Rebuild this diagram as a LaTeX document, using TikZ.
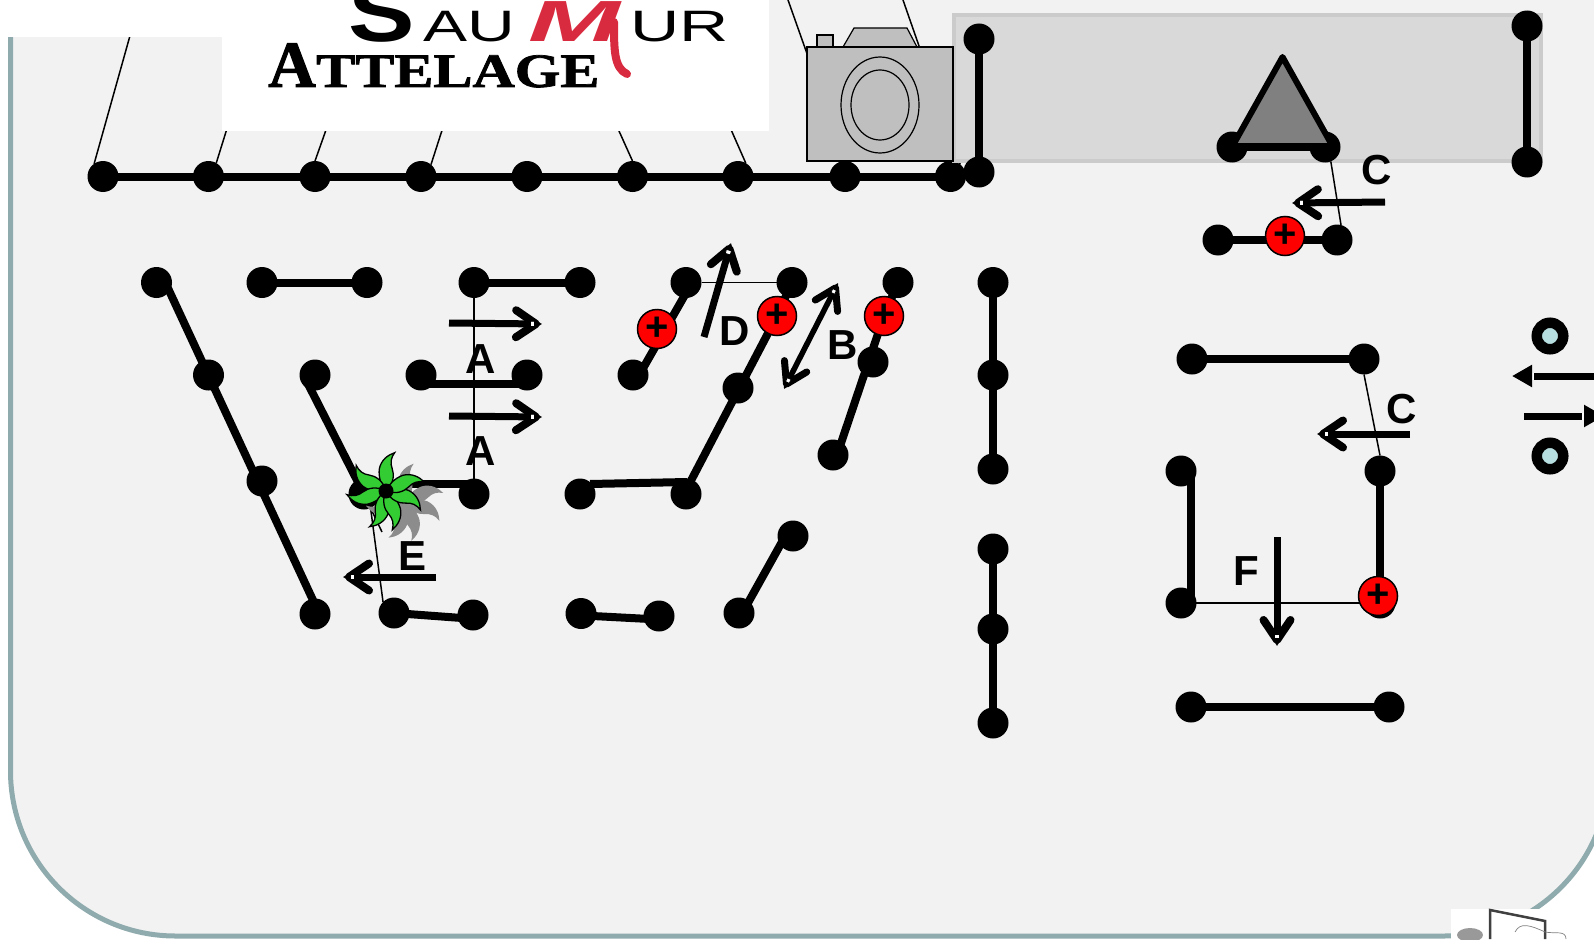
\documentclass[tikz,border=0pt]{standalone}
\usepackage{fontspec}
\setmainfont{Liberation Sans}
\newfontfamily\logoserif[BoldFeatures={FakeBold=1.5}]{Liberation Serif}
\usetikzlibrary{arrows.meta,shapes.geometric}

\definecolor{panelfill}{HTML}{F2F2F2}
\definecolor{panelline}{HTML}{8FABAD}
\definecolor{bandfill}{HTML}{D9D9D9}
\definecolor{bandline}{HTML}{CBCBCB}
\definecolor{camfill}{HTML}{BFBFBF}
\definecolor{ringfill}{HTML}{B7DEE0}
\definecolor{petal}{HTML}{33CC33}
\definecolor{logored}{HTML}{D92B3F}

\newcommand{\petalpath}{(0,0) .. controls (7,8) and (16,9) .. (22,7) .. controls (28,5) and (33,6) .. (38,10) .. controls (36,3) and (31,-4) .. (22,-6) .. controls (14,-7) and (6,-5) .. (0,0) -- cycle}
\newcommand{\plussign}{\raisebox{-2.5pt}{+}}

\begin{document}
\begin{tikzpicture}[
    x=1pt, y=-1pt,
    dot/.style={circle, fill=black, inner sep=0pt, outer sep=0pt, minimum size=31pt},
    plusdot/.style={circle, draw=black, line width=1.5pt, fill=red, inner sep=0pt, outer sep=0pt, minimum size=39pt,
      font=\bfseries\fontsize{40}{40}\selectfont},
    ring/.style={circle, draw=black, line width=10.5pt, fill=ringfill, inner sep=0pt, minimum size=26.5pt},
    wire/.style={line width=1.5pt},
    bar/.style={line width=8pt},
    tiebar/.style={bar, shorten <=-5pt, shorten >=-5pt},
    flow/.style={line width=7pt, -{Straight Barb[length=20pt,width=27pt,line width=8pt,round,sep=-10pt]
        Rectangle[length=5pt,width=6pt,fill=white,line width=.8pt,sep=0pt] Triangle[length=7pt,width=8pt]}},
    bothflow/.style={line width=5.5pt, {Triangle[length=7pt,width=8pt] Rectangle[length=5pt,width=5pt,fill=white,line width=.8pt,sep=0pt]
        Straight Barb[length=20pt,width=25pt,line width=7pt,round,sep=-10pt]}-{Straight Barb[length=20pt,width=25pt,line width=7pt,round,sep=-10pt]
        Rectangle[length=5pt,width=5pt,fill=white,line width=.8pt,sep=0pt] Triangle[length=7pt,width=8pt]}},
    bigflow/.style={line width=7pt, -{Rectangle[length=2pt,width=7pt,color=white,line width=0pt,sep=0pt] Triangle[length=20pt,width=21pt]}},
    tag/.style={font=\bfseries\fontsize{42}{42}\selectfont, inner sep=0pt}
  ]
    \useasboundingbox (0,0) rectangle (1594,939);
    \fill[white] (0,0) rectangle (1594,939);
    \draw[fill=panelfill, draw=panelline, line width=5pt, rounded corners=165pt]
      (10.5,-20) -- (10.5,936) -- (1609,936) -- (1609,-20);

    % top row
    \foreach \x [count=\i] in {103,208.5,315,421,527,632.5,738,845,950.5}
      \node[dot] (t\i) at (\x,176.5) {};
    \draw[bar] (t1.center) -- (t9.center);
    \foreach \i/\ang/\x in {1/125/140,2/60/267,3/90/372,4/50/484,6/90/560,7/60/674,8/90/788,9/51/903}{
      \coordinate (up\i) at (\x,0);
      \draw[wire] (t\i.\ang) -- (up\i);
    }

    % logo
    \fill[white] (0,0) rectangle (222,37);
    \fill[white] (222,0) rectangle (769,131);
    \node[anchor=base west, inner sep=0pt, font=\bfseries\fontsize{83}{83}\selectfont, xscale=1.2, transform shape] (logoS) at (348,42) {S};
    \node[anchor=base west, inner sep=0pt, font=\fontsize{44}{44}\selectfont, xscale=1.5, transform shape] (logoAU) at (423,42) {AU};
    \node[anchor=base west, inner sep=0pt, font=\fontsize{44}{44}\selectfont, xscale=1.55, transform shape] (logoUR) at (630,42) {UR};
    \draw[logored, line width=8pt, line cap=round] (614,22) .. controls (614,50) and (614,68) .. (627,74);
    \node[anchor=base west, inner sep=0pt, text=logored, font=\bfseries\itshape\fontsize{58}{58}\selectfont, xscale=1.9, transform shape] (logoM) at (528,42) {M};
    \node[anchor=base west, inner sep=0pt, font=\logoserif\bfseries\fontsize{66}{66}\selectfont] (logoA) at (268,87) {A};
    \node[anchor=base west, inner sep=0pt, font=\logoserif\bfseries\fontsize{48}{48}\selectfont, xscale=1.22, transform shape] (logoT) at (316,87) {TTELAGE};

    % grey band
    \draw[fill=bandfill, draw=bandline, line width=4pt] (954,15) rectangle (1541,161);

    % camera
    \draw[fill=camfill, line width=1.5pt] (817,47) -- (817,35) -- (833,35) -- (833,47);
    \draw[fill=camfill, line width=1.2pt] (843,47) -- (854,28) -- (907,28) -- (917,47);
    \draw[fill=camfill, line width=1.5pt] (807,47) rectangle (953,161);
    \draw[line width=1.2pt] (880,105) ellipse [x radius=39, y radius=48];
    \draw[line width=1.2pt] (880,105) ellipse [x radius=29, y radius=35];

    % band contents
    \node[dot] (b1) at (979,39) {};
    \node[dot] (b2) at (979,172) {};
    \draw[bar] (b1.center) -- (b2.center);
    \node[dot] (b3) at (1527,26) {};
    \node[dot] (b4) at (1527,162) {};
    \draw[bar] (b3.center) -- (b4.center);
    \node[dot] (h1) at (1232,147) {};
    \node[dot] (h2) at (1325,147) {};
    \coordinate (h3) at (1282.5,57);
    \coordinate (h1a) at (1232,147);
    \coordinate (h2a) at (1333,147);
    \draw[fill=black!50, line width=6pt, line join=round] (h1a) -- (h3) -- (h2a) -- cycle;
    \draw[line width=8pt] (h1a) -- (h2a);
    \node[dot] (k1) at (1218,240) {};
    \node[dot] (k2) at (1337,240) {};
    \draw[bar] (k1.center) -- (k2.center);
    \node[plusdot] (k3) at (1285,236) {\plussign};
    \draw[wire] (h2.-68) -- (k2.75);

    % left group
    \node[dot] (a1) at (156.5,282.5) {};
    \node[dot] (a2) at (208.5,375) {};
    \node[dot] (a3) at (262,481) {};
    \node[dot] (a4) at (315,614) {};
    \draw[tiebar] (a1.-34) -- (a4.100);
    \node[dot] (c1) at (262,282.5) {};
    \node[dot] (c2) at (367,282.5) {};
    \draw[bar] (c1.center) -- (c2.center);
    \node[dot] (d1) at (315,375) {};
    \node[dot] (d2) at (364,494) {};
    \node[dot] (d3) at (474,494) {};
    \coordinate (d1a) at (307,382);
    \draw[bar] (d1a) -- (d2.center);
    \draw[tiebar] (d2.40) -- (d3.140);
    \node[dot] (e1) at (474,282.5) {};
    \node[dot] (e2) at (580,282.5) {};
    \draw[bar] (e1.center) -- (e2.center);
    \draw[wire] (e1.south) -- (d3.north);
    \node[dot] (f1) at (421,375) {};
    \node[dot] (f2) at (527,375) {};
    \draw[tiebar] (f1.-35) -- (f2.215);
    \node[dot] (g1) at (394,613) {};
    \node[dot] (g2) at (473,615) {};
    \draw[tiebar] (g1.center) -- (g2.190);
    \draw[wire] (d2.-65) -- (g1.135);
    \coordinate (d4) at (382,532);
    \draw[wire] (d2.-65) -- (d4);

    % flower
    \foreach \ang in {92,154,200,260,294,346,28}
      \fill[black!45, shift={(405,502)}, rotate=\ang] \petalpath;
    \foreach \ang in {92,154,200,260,294,346,28}
      \draw[fill=petal, line width=1.3pt, shift={(386,491)}, rotate=\ang] \petalpath;
    \node[dot, minimum size=15pt] (flower) at (386,491) {};

    % middle group
    \node[dot] (m1) at (581,613.5) {};
    \node[dot] (m2) at (659,616) {};
    \draw[tiebar] (m1.-10) -- (m2.190);
    \node[dot] (m3) at (739,613) {};
    \node[dot] (m4) at (793,536) {};
    \draw[tiebar] (m3.50) -- (m4.215);
    \node[dot] (m5) at (580,494) {};
    \node[dot] (m6) at (686,494) {};
    \node[dot] (m7) at (738,388) {};
    \node[dot] (m9) at (792,282.5) {};
    \coordinate (m6a) at (687,482);
    \coordinate (m8a) at (777,316);
    \draw[bar] (m5.center) ++(10,-10) -- (m6a);
    \draw[bar] (m6.north) ++(4,4) -- (m8a);
    \draw[bar] (m8a) -- (m9.center);
    \node[plusdot] (m8) at (m8a) {\plussign};
    \node[dot] (q1) at (686,282.5) {};
    \node[dot] (q2) at (633,375) {};
    \draw[tiebar] (q1.-100) -- (q2.40);
    \node[plusdot] (q3) at (657,329) {\plussign};
    \draw[wire] (q1) -- (m9);
    \node[dot] (s1) at (898,282.5) {};
    \node[dot] (s2) at (873,362) {};
    \node[dot] (s3) at (833,455) {};
    \coordinate (s4a) at (884,316);
    \draw[bar] (s3.center) ++(6,-6) -- (s4a);
    \draw[bar] (s1.center) -- (s4a);
    \node[plusdot] (s4) at (s4a) {\plussign};

    % column
    \foreach \y [count=\i] in {282.5,375,469,549,629,723}
      \node[dot] (v\i) at (993,\y) {};
    \draw[bar] (v1.center) -- (v3.center);
    \draw[bar] (v4.center) -- (v6.center);

    % right group
    \node[dot] (r1) at (1192,359) {};
    \node[dot] (r2) at (1364,359) {};
    \draw[bar] (r1.center) -- (r2.center);
    \node[dot] (r3) at (1380,471) {};
    \node[dot] (r4) at (1380,603) {};
    \draw[bar] (r3.center) -- (r4.center);
    \draw[wire] (r2.south) -- (r3.north);
    \node[dot] (r5) at (1181,471) {};
    \node[dot] (r6) at (1181,603) {};
    \coordinate (r5a) at (1191,471);
    \coordinate (r6a) at (1191,603);
    \draw[bar] (r5a) -- (r6a);
    \draw[wire] (r6.center) -- (r4.center);
    \node[plusdot] (r7) at (1378,596) {\plussign};
    \node[dot] (r8) at (1191,707) {};
    \node[dot] (r9) at (1389,707) {};
    \draw[bar] (r8.center) -- (r9.center);

    % far right
    \node[ring] (o1) at (1550,336) {};
    \node[ring] (o2) at (1550,456) {};
    \coordinate (w1) at (1600,376);
    \coordinate (w2) at (1512,376);
    \coordinate (w3) at (1524,416);
    \coordinate (w4) at (1604,416);
    \draw[bigflow] (w1) -- (w2);
    \draw[bigflow] (w3) -- (w4);

    % arrows
    \coordinate (fa1) at (449,323);
    \coordinate (fa2) at (542,324);
    \coordinate (fa3) at (449,416);
    \coordinate (fa4) at (542,417);
    \coordinate (fd1) at (704,337);
    \coordinate (fd2) at (731,243);
    \coordinate (fb1) at (838,283);
    \coordinate (fb2) at (784,389);
    \coordinate (fe1) at (436,577);
    \coordinate (fe2) at (343,577);
    \coordinate (fc1) at (1385,202);
    \coordinate (fc2) at (1292,203);
    \coordinate (fc3) at (1410,434);
    \coordinate (fc4) at (1317,434);
    \coordinate (ff1) at (1277,537);
    \coordinate (ff2) at (1277,646);
    \draw[flow] (fa1) -- (fa2);
    \draw[flow] (fa3) -- (fa4);
    \draw[flow] (fd1) -- (fd2);
    \draw[bothflow] (fb2) -- (fb1);
    \draw[flow] (fe1) -- (fe2);
    \draw[flow] (fc1) -- (fc2);
    \draw[flow] (fc3) -- (fc4);
    \draw[flow] (ff1) -- (ff2);

    % labels
    \node[tag] (la1) at (481,359) {A};
    \node[tag] (la2) at (481,451) {A};
    \node[tag] (ld) at (735,331) {D};
    \node[tag] (lb) at (843,345.5) {B};
    \node[tag] (le) at (413,556) {E};
    \node[tag] (lc1) at (1377,170) {C};
    \node[tag] (lc2) at (1402,409) {C};
    \node[tag] (lf) at (1246,571) {F};

    % small picture, bottom right
    \fill[white] (1451,909) rectangle (1594,939);
    \fill[black!40] (1470,935) ellipse [x radius=13, y radius=7];
    \draw[black!75, line width=2.5pt] (1490,939) -- (1490,910) -- (1545,921) -- (1545,939);
    \draw[black!50, line width=.7pt] (1515,932) .. controls (1520,922) and (1530,925) .. (1545,932) .. controls (1555,934) and (1566,930) .. (1566,939);
  \end{tikzpicture}
\end{document}
